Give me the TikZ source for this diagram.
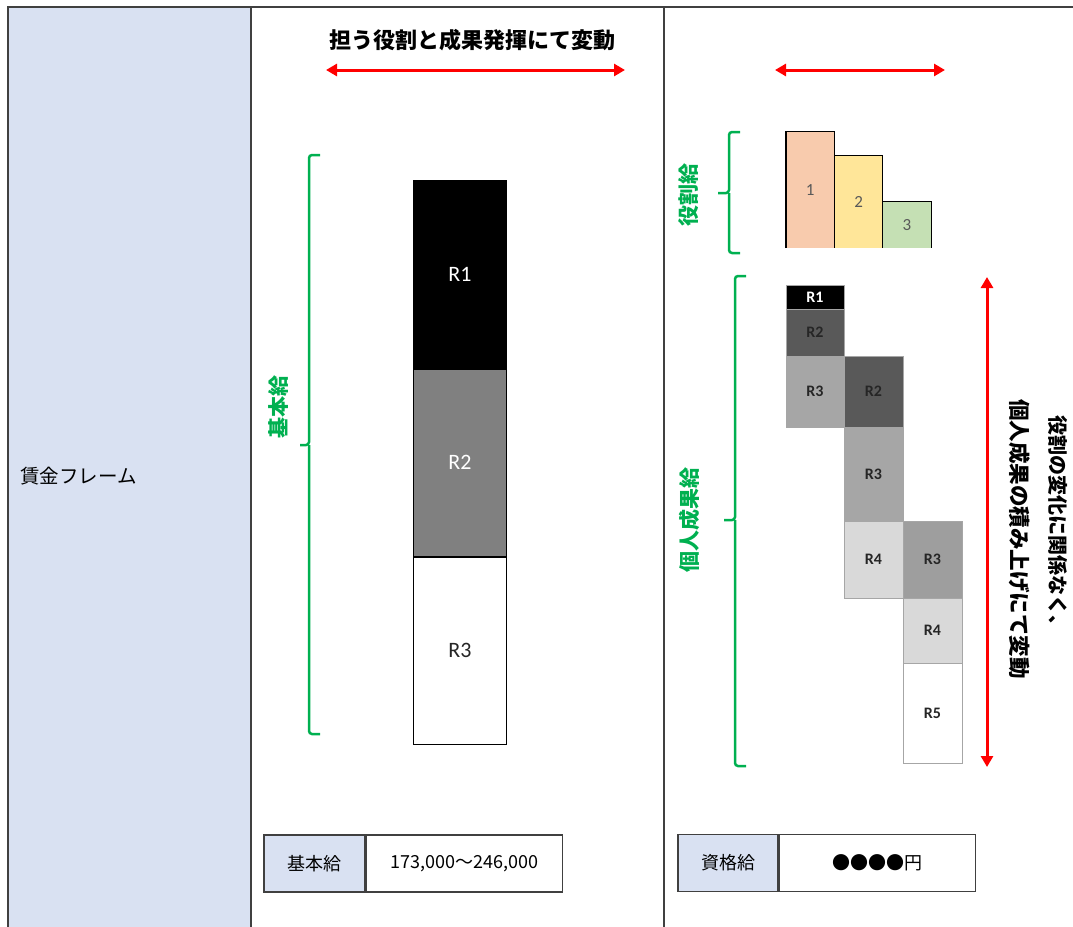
\documentclass[tikz,border=0pt]{standalone}
\usepackage{fontspec}
\setmainfont{Noto Sans CJK JP}
\newfontfamily\calibri{Carlito}
\usetikzlibrary{arrows.meta}
\definecolor{lblue}{HTML}{D9E1F2}
\definecolor{frame}{HTML}{404040}
\definecolor{gbrace}{HTML}{00B050}
\definecolor{peach}{HTML}{F8CBAD}
\definecolor{lyellow}{HTML}{FFE699}
\definecolor{lgreen}{HTML}{C5E0B4}
\definecolor{dgray}{HTML}{595959}
\definecolor{mgray}{HTML}{A6A6A6}
\definecolor{lgray}{HTML}{D9D9D9}
\definecolor{txtdark}{HTML}{262626}
\tikzset{
  framel/.style={draw=frame, line width=1.5pt},
  redarrow/.style={draw=red, line width=3pt, {Triangle[length=11pt,width=12pt]}-{Triangle[length=11pt,width=12pt]}},
  gbr/.style={draw=gbrace, line width=2.5pt, rounded corners=3pt},
  glabel/.style={text=gbrace, font=\fontsize{21}{21}\selectfont\bfseries, rotate=90, inner sep=0pt},
  bigbar/.style={draw=black, line width=1.2pt, minimum width=93pt, inner sep=0pt, font=\calibri\fontsize{22}{22}\selectfont},
  rbar/.style={minimum width=48pt, inner sep=0pt, text=dgray, font=\calibri\fontsize{17}{17}\selectfont},
  cell/.style={draw=gray!70, line width=0.8pt, inner sep=0pt, text=txtdark, font=\calibri\bfseries\fontsize{16}{16}\selectfont},
  tcell/.style={draw=frame, line width=1.3pt, minimum height=57pt, inner sep=0pt, font=\fontsize{18}{18}\selectfont},
  vtext/.style={rotate=-90, inner sep=0pt, font=\fontsize{20}{20}\selectfont\bfseries, text=black}
}
\begin{document}
\begin{tikzpicture}[x=1pt,y=-1pt]
\useasboundingbox (0,0) rectangle (1073,926);
% frame
\fill[lblue] (8,7) rectangle (251,930);
\draw[framel] (8,930) -- (8,7) -- (1080,7);
\draw[framel] (251,7) -- (251,930);
\draw[framel] (664,7) -- (664,930);
\node[anchor=west, inner sep=0pt, font=\fontsize{19.5}{19.5}\selectfont] (wf) at (20,476) {賃金フレーム};

% middle column
\node[font=\fontsize{22}{22}\selectfont\bfseries, inner sep=0pt] (title) at (472.5,40) {担う役割と成果発揮にて変動};
\coordinate (al) at (326,70);
\coordinate (ar) at (625,70);
\draw[redarrow] (al) -- (ar);

\node[bigbar, fill=black, text=white, minimum height=187pt] (b1) at (460,274.5) {R1};
\node[bigbar, fill=gray, text=white, minimum height=187pt, anchor=north] (b2) at (b1.south) {R2};
\node[bigbar, fill=white, text=txtdark, minimum height=187pt, anchor=north] (b3) at (b2.south) {R3};

\draw[gbr] (320,155) -- (309,155) -- (309,445) -- (300,445) (309,445) -- (309,734) -- (320,734);
\node[glabel] (kihon) at (279,407) {基本給};

\node[tcell, fill=lblue, minimum width=101pt] (t1a) at (314.5,863.5) {基本給};
\node[tcell, fill=white, minimum width=196pt, anchor=west] (t1b) at (t1a.east) {173,000～246,000};

% right column
\coordinate (bl) at (775,70);
\coordinate (br) at (945,70);
\draw[redarrow] (bl) -- (br);

\node[rbar, fill=peach, minimum height=116pt, anchor=south west] (p1) at (786,248) {1};
\node[rbar, fill=lyellow, minimum height=92pt, anchor=south west] (p2) at (p1.south east) {2};
\node[rbar, fill=lgreen, minimum height=46pt, anchor=south west] (p3) at (p2.south east) {3};
\draw[black, line width=1.2pt] (p1.south west) -- (p1.north west) -- (p1.north east) -- (p1.south east);
\draw[black, line width=1.2pt] (p2.north west) -- (p2.north east) -- (p2.south east);
\draw[black, line width=1.2pt] (p3.north west) -- (p3.north east) -- (p3.south east);

\draw[gbr] (740,132) -- (729,132) -- (729,193) -- (718,193) (729,193) -- (729,253) -- (740,253);
\node[glabel] (yakuwari) at (689,195) {役割給};

\draw[gbr] (746,276) -- (735,276) -- (735,520) -- (724,520) (735,520) -- (735,766) -- (746,766);
\node[glabel] (kojin) at (689,520) {個人成果給};

% grid
\node[cell, fill=black, text=white, minimum width=58pt, minimum height=24pt] (c11) at (815,297) {R1};
\node[cell, fill=dgray, minimum width=58pt, minimum height=47pt] (c12) at (815,332.5) {R2};
\node[cell, fill=mgray, minimum width=58pt, minimum height=71pt] (c13) at (815,391.5) {R3};
\node[cell, fill=dgray, minimum width=59pt, minimum height=71pt] (c22) at (873.5,391.5) {R2};
\node[cell, fill=mgray, minimum width=59pt, minimum height=94pt] (c23) at (873.5,474) {R3};
\node[cell, fill=lgray, minimum width=59pt, minimum height=77pt] (c24) at (873.5,559.5) {R4};
\node[cell, fill=mgray!95!black, minimum width=59pt, minimum height=77pt] (c33) at (932.5,559.5) {R3};
\node[cell, fill=lgray, minimum width=59pt, minimum height=65pt] (c34) at (932.5,630.5) {R4};
\node[cell, fill=white, minimum width=59pt, minimum height=100pt] (c35) at (932.5,713) {R5};

\coordinate (vt) at (987,277);
\coordinate (vb) at (987,767);
\draw[redarrow] (vt) -- (vb);

\node[vtext] (v1) at (1058,525) {役割の変化に関係なく、};
\node[vtext, font=\fontsize{21.5}{21.5}\selectfont\bfseries] (v2) at (1020,539) {個人成果の積み上げにて変動};

\node[tcell, fill=lblue, minimum width=100pt] (t2a) at (728,863) {資格給};
\node[tcell, fill=white, minimum width=196pt, anchor=west] (t2b) at (t2a.east) {●●●●円};
\end{tikzpicture}
\end{document}
